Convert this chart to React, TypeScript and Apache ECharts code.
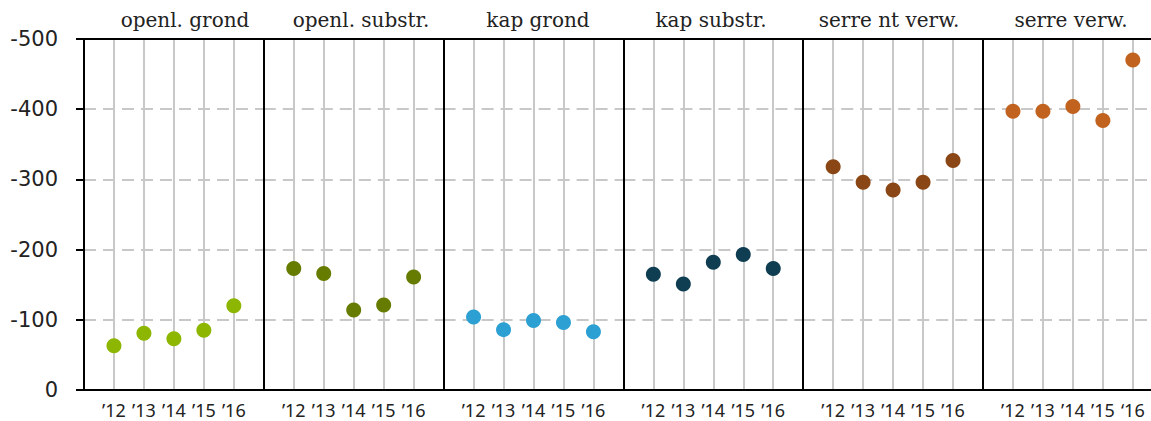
import React, { useEffect, useRef } from "react";
import * as echarts from "echarts";

const years = [12, 13, 14, 15, 16];
const yearLabelsDefault = ["’12", "’13", "’14", "’15", "’16"];
const yearLabelsLast = ["’12", "’13", "’14", "’15", "‘16"];
const panelNames = ["openl. grond", "openl. substr.", "kap grond", "kap substr.", "serre nt verw.", "serre verw."];
const panelColors = ["#8db600", "#657c00", "#2ca0d3", "#0f3d52", "#8a4614", "#c2621f"];
const titleCenters = [185, 361, 538, 711, 889, 1071];

const openlGrond = [-63, -81, -73, -85, -120];
const openlSubstr = [-173, -166, -114, -121, -161];
const kapGrond = [-104, -86, -99, -96, -83];
const kapSubstr = [-165, -151, -182, -193, -173];
const serreNtVerw = [-318, -296, -285, -296, -327];
const serreVerw = [-397, -397, -404, -384, -470];

const panelValues = [openlGrond, openlSubstr, kapGrond, kapSubstr, serreNtVerw, serreVerw];

const yMin = -500;
const yMax = 0;
const yInterval = 100;

export default function App() {
  const ref = useRef<HTMLDivElement>(null);
  useEffect(() => {
    if (!ref.current) return;
    const chart = echarts.init(ref.current, null, { renderer: "svg" });
    const W = 1151;
    const left0 = 84;
    const pw = 179.8;
    const unit = pw / 6;
    const top = 39;
    const height = 351;
    const grids: any[] = [];
    const xAxes: any[] = [];
    const yAxes: any[] = [];
    const series: any[] = [];
    const titles: any[] = [];
    panelNames.forEach((name, k) => {
      const gl = left0 + pw * k;
      const gw = Math.min(pw, W - gl);
      const xMax = 11 + gw / unit;
      grids.push({ left: gl, width: gw, top, height, containLabel: false });
      const labels = k === panelNames.length - 1 ? yearLabelsLast : yearLabelsDefault;
      xAxes.push({
        type: "value",
        gridIndex: k,
        min: 11,
        max: xMax,
        interval: 1,
        position: "bottom",
        axisLine: { show: true, lineStyle: { color: "#000", width: 2 } },
        axisTick: { show: false },
        axisLabel: {
          show: true,
          margin: 11,
          color: "#222",
          fontFamily: "Noto Sans",
          fontSize: 18,
          hideOverlap: false,
          showMaxLabel: false,
          formatter: (v: number) => {
            const i = years.indexOf(v);
            return i >= 0 ? labels[i] : "";
          },
        },
        splitLine: {
          show: true,
          showMinLine: false,
          showMaxLine: false,
          lineStyle: { color: "#c8c8c8", width: 2, type: "solid" },
        },
        z: 3,
      });
      xAxes.push({
        type: "value",
        gridIndex: k,
        min: 11,
        max: xMax,
        interval: 1,
        position: "top",
        axisLine: { show: true, lineStyle: { color: "#000", width: 2 } },
        axisTick: { show: false },
        axisLabel: { show: false },
        splitLine: { show: false },
        z: 3,
      });
      yAxes.push({
        type: "value",
        gridIndex: k,
        min: yMin,
        max: yMax,
        interval: yInterval,
        inverse: true,
        axisLine: { show: true, lineStyle: { color: "#000", width: 2 } },
        axisTick: { show: k === 0, length: 8, lineStyle: { color: "#000", width: 2 } },
        axisLabel: {
          show: k === 0,
          margin: 26,
          color: "#222",
          fontFamily: "DejaVu Sans",
          fontSize: 21,
        },
        splitLine: {
          show: true,
          showMinLine: false,
          showMaxLine: false,
          lineStyle: { color: "#c8c8c8", width: 2, type: [12, 7] },
        },
        z: 3,
      });
      series.push({
        type: "scatter",
        name,
        xAxisIndex: k * 2,
        yAxisIndex: k,
        symbol: "circle",
        symbolSize: 15,
        itemStyle: { color: panelColors[k], opacity: 1 },
        data: years.map((y, i) => [y, panelValues[k][i]]),
        z: 5,
      });
      titles.push({
        text: name,
        left: titleCenters[k],
        top: 10,
        padding: 0,
        textAlign: "center",
        textStyle: {
          fontFamily: "DejaVu Serif",
          fontWeight: "normal",
          fontSize: 20,
          color: "#222",
        },
      });
    });
    chart.setOption({
      animation: false,
      backgroundColor: "#fff",
      title: titles,
      grid: grids,
      xAxis: xAxes,
      yAxis: yAxes,
      series,
    });
    return () => chart.dispose();
  }, []);
  return (
    <div
      ref={ref}
      style={{ position: "fixed", left: 0, top: 0, width: 1151, height: 421 }}
    />
  );
}
